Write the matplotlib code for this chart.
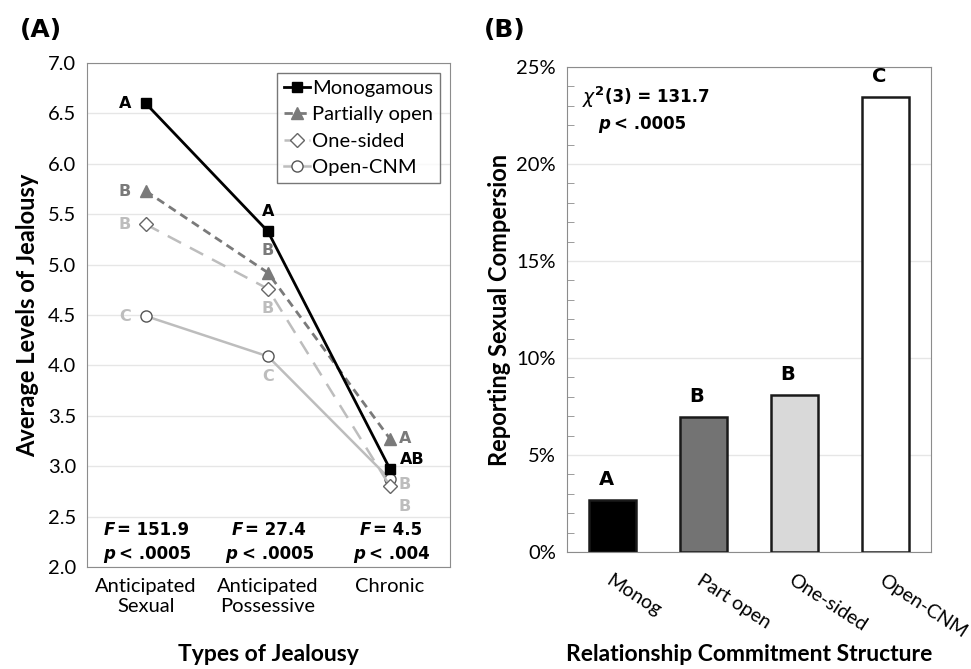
import numpy as np
import matplotlib
matplotlib.use("Agg")
import matplotlib.pyplot as plt
from matplotlib.ticker import MultipleLocator, PercentFormatter, FormatStrFormatter

plt.rcParams['font.family'] = ['Lato', 'DejaVu Sans']
plt.rcParams['mathtext.fontset'] = 'dejavusans'

# Panel A data
jealousy_types = ['Anticipated\nSexual', 'Anticipated\nPossessive', 'Chronic']
monogamous = [6.60, 5.33, 2.97]
partially_open = [5.73, 4.92, 3.27]
one_sided = [5.40, 4.76, 2.80]
open_cnm = [4.49, 4.09, 2.87]
f_stats = ['151.9', '27.4', '4.5']
p_stats = ['.0005', '.0005', '.004']

# Panel B data
structures = ['Monog', 'Part open', 'One-sided', 'Open-CNM']
compersion = [2.7, 6.95, 8.1, 23.45]
bar_letters = ['A', 'B', 'B', 'C']

fig = plt.figure(figsize=(9.71, 6.69), dpi=100)
axA = fig.add_axes([0.0896, 0.1525, 0.3738, 0.7533])
axB = fig.add_axes([0.5839, 0.1749, 0.3749, 0.7250])

spine_col = '#8c8c8c'
grid_col = '#e6e6e6'
dark = '#7a7a7a'
light = '#bdbdbd'
bold_font = 'DejaVu Sans'


def prefix(ax, t, sym, gap, **kw):
    # put a symbol just left of an existing text
    fig.canvas.draw()
    bb = t.get_window_extent(fig.canvas.get_renderer()).transformed(ax.transData.inverted())
    ax.text(bb.x0 - gap, t.get_position()[1], sym, ha='right', va='center', **kw)


def suffix(ax, t, s, gap, **kw):
    fig.canvas.draw()
    bb = t.get_window_extent(fig.canvas.get_renderer()).transformed(ax.transData.inverted())
    ax.text(bb.x1 + gap, t.get_position()[1], s, ha='left', va='center', **kw)


# ---- Panel A ----
x = np.arange(len(jealousy_types))
axA.plot(x, open_cnm, color=light, lw=1.8, marker='o', ms=8,
         mfc='white', mec='#555555', mew=1, label='Open-CNM', zorder=3)
axA.plot(x, one_sided, color=light, lw=1.8, ls=(0, (6, 4)), marker='D', ms=7,
         mfc='white', mec='#666666', mew=1, label='One-sided', zorder=4)
axA.plot(x, partially_open, color=dark, lw=2, ls=(0, (3, 2)), marker='^', ms=9,
         mfc=dark, mec=dark, label='Partially open', zorder=5)
axA.plot(x, monogamous, color='black', lw=2, marker='s', ms=7,
         mfc='black', mec='black', label='Monogamous', zorder=6)

axA.set_xlim(-0.48, 2.49)
axA.set_ylim(2.0, 7.0)
axA.yaxis.set_major_locator(MultipleLocator(0.5))
axA.yaxis.set_major_formatter(FormatStrFormatter('%.1f'))
axA.grid(axis='y', color=grid_col, lw=1)
axA.set_axisbelow(True)
axA.set_xticks(x)
axA.set_xticklabels(jealousy_types)
axA.tick_params(axis='both', length=0, labelsize=14.5, pad=8)
axA.set_ylabel('Average Levels of Jealousy', fontsize=17, fontweight='bold', labelpad=6)
axA.set_xlabel('Types of Jealousy', fontsize=16.5, fontweight='bold')
axA.xaxis.set_label_coords(0.5, -0.152)
for s in axA.spines.values():
    s.set_color(spine_col)

h, l = axA.get_legend_handles_labels()
leg = axA.legend(h[::-1], l[::-1], loc='upper right', fontsize=14.5,
                 frameon=True, fancybox=False, edgecolor='#555555',
                 handlelength=1.3, handletextpad=0.1, borderpad=0.35,
                 labelspacing=0.45, borderaxespad=0.5)
leg.get_frame().set_linewidth(1)

lf = dict(fontsize=11.5, fontweight='bold', family=bold_font, ha='center', va='center')
# letters at Anticipated Sexual
axA.text(-0.17, monogamous[0], 'A', color='black', **lf)
axA.text(-0.17, partially_open[0], 'B', color=dark, **lf)
axA.text(-0.17, one_sided[0], 'B', color=light, **lf)
axA.text(-0.17, open_cnm[0], 'C', color=light, **lf)
# letters at Anticipated Possessive
axA.text(1, monogamous[1] + 0.2, 'A', color='black', **lf)
axA.text(1, partially_open[1] + 0.22, 'B', color=dark, **lf)
axA.text(1, one_sided[1] - 0.2, 'B', color=light, **lf)
axA.text(1, open_cnm[1] - 0.2, 'C', color=light, **lf)
# letters at Chronic
axA.text(2.12, partially_open[2], 'A', color=dark, **lf)
axA.text(2.18, monogamous[2] + 0.1, 'AB', color='black', **lf)
axA.text(2.12, open_cnm[2] - 0.05, 'B', color=light, **lf)
axA.text(2.12, one_sided[2] - 0.2, 'B', color=light, **lf)

sf = dict(fontsize=12, fontweight='bold', family=bold_font)
for i in range(len(jealousy_types)):
    t1 = axA.text(i + 0.06, 2.37, '= ' + f_stats[i], ha='center', va='center', **sf)
    t2 = axA.text(i + 0.08, 2.13, '< ' + p_stats[i], ha='center', va='center', **sf)
    prefix(axA, t1, 'F', 0.015, style='italic', **sf)
    prefix(axA, t2, 'p', 0.035, style='italic', **sf)

# ---- Panel B ----
xb = np.arange(len(structures))
bar_cols = ['black', '#737373', '#d9d9d9', 'white']
axB.bar(xb, compersion, width=0.52, color=bar_cols, edgecolor='#1a1a1a',
        linewidth=1.8, zorder=3)
axB.set_xlim(-0.5, 3.5)
axB.set_ylim(0, 25)
axB.yaxis.set_major_locator(MultipleLocator(5))
axB.yaxis.set_minor_locator(MultipleLocator(1))
axB.yaxis.set_major_formatter(PercentFormatter(decimals=0))
axB.grid(axis='y', color=grid_col, lw=1)
axB.set_axisbelow(True)
axB.tick_params(axis='y', which='major', length=0, labelsize=14.5, pad=8)
axB.tick_params(axis='y', which='minor', direction='in', length=5, color=spine_col)
axB.set_xticks(xb)
axB.set_xticklabels(structures, rotation=-33, ha='left', rotation_mode='anchor',
                    fontsize=14)
axB.tick_params(axis='x', length=0, pad=14)
for s in axB.spines.values():
    s.set_color(spine_col)
axB.set_ylabel('Reporting Sexual Compersion', fontsize=17, fontweight='bold', labelpad=4)
axB.set_xlabel('Relationship Commitment Structure', fontsize=16.5, fontweight='bold')
axB.xaxis.set_label_coords(0.5, -0.19)

for i, (v, lt) in enumerate(zip(compersion, bar_letters)):
    axB.text(i - 0.07, v + 0.55, lt, fontsize=14, fontweight='bold',
             family=bold_font, ha='center', va='bottom')

chi = axB.text(-0.33, 23.45, r'$\chi^{\mathbf{2}}$', fontsize=13.5,
               ha='left', va='center')
suffix(axB, chi, '(3) = 131.7', 0.0, **sf)
pt = axB.text(0.02, 22.05, '< .0005', ha='left', va='center', **sf)
prefix(axB, pt, 'p', 0.05, style='italic', **sf)

fig.text(0.02, 0.945, '(A)', fontsize=18, fontweight='bold', family=bold_font)
fig.text(0.498, 0.945, '(B)', fontsize=18, fontweight='bold', family=bold_font)

fig.savefig('out.png', dpi=100)
